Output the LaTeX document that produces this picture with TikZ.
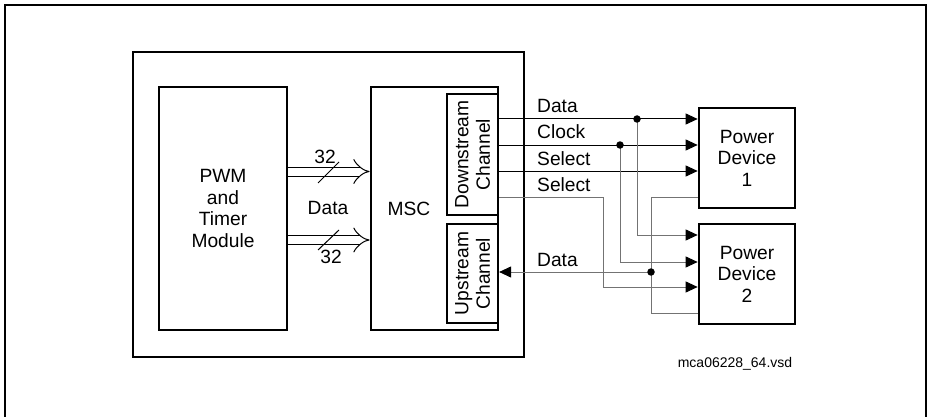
\documentclass[tikz,border=0pt]{standalone}
\usepackage{fontspec}
\setmainfont{Liberation Sans}
\usetikzlibrary{arrows.meta}

\begin{document}
\begin{tikzpicture}[x=1pt, y=-1pt,
    every node/.style={font=\fontsize{19.2}{21.5}\selectfont},
    blk/.style={draw, line width=2.7pt, inner sep=0pt, align=center},
    chan/.style={draw, line width=2.2pt, minimum width=51pt, inner sep=0pt},
    sig/.style={line width=1pt, -{Triangle[length=12pt,width=11pt]}},
    tap/.style={sig, black!55, -{Triangle[length=12pt,width=11pt,black]}},
    lbl/.style={anchor=base west, inner sep=0pt},
    dot/.style={circle, fill, inner sep=0pt, minimum size=7.5pt},
    bus/.style={double, double distance=8pt, line width=1pt, -{Implies}}]
    \useasboundingbox (0,0) rectangle (928,417);
    \draw [line width=1.2pt] (5,417) |- (926,5) -- (926,417);

    \node [blk, minimum width=391pt, minimum height=305pt] (soc) at (328.5,204.5) {};
    \node [blk, minimum width=128pt, minimum height=243pt] (pwm) at (223,208.5) {PWM\\and\\Timer\\Module};
    \node [blk, minimum width=127pt, minimum height=243pt] (msc) at (434.5,208.5) {};
    \node [inner sep=0pt] (msctxt) at (409,209) {MSC};
    \node [chan, minimum height=121pt] (down) at (472.5,154.5) {};
    \node [rotate=90, align=center, inner sep=0pt] (downtxt) at (down) {Downstream\\Channel};
    \node [chan, minimum height=99pt] (up) at (472.5,273.5) {};
    \node [rotate=90, align=center, inner sep=0pt] (uptxt) at (up) {Upstream\\Channel};
    \node [blk, minimum width=96pt, minimum height=100pt] (pd1) at (747,158) {Power\\Device\\1};
    \node [blk, minimum width=96pt, minimum height=100pt] (pd2) at (747,274) {Power\\Device\\2};

    % bus between PWM and MSC
    \coordinate (ybusa) at (0,171.5);
    \coordinate (ybusb) at (0,240);
    \draw [bus] (pwm.east |- ybusa) -- (msc.west |- ybusa);
    \draw [bus] (pwm.east |- ybusb) -- (msc.west |- ybusb);
    \draw [line width=1pt] (318,183) -- (339,162);
    \draw [line width=1pt] (318,250) -- (339,230);
    \node (wa) at (325,157) {32};
    \node (wb) at (331,257) {32};
    \node (ldbus) at (328,208) {Data};

    % junctions and levels
    \coordinate (jdata) at (637,119);
    \coordinate (jclk) at (620,145);
    \coordinate (jsel) at (603,197);
    \coordinate (jret) at (651,272);
    \coordinate (ysel) at (0,171);
    \coordinate (yd2) at (0,235);
    \coordinate (yc2) at (0,262);
    \coordinate (ys2) at (0,287);
    \coordinate (yr1) at (0,197);
    \coordinate (yr2) at (0,313);

    \draw [sig] (down.east |- jdata) -- (pd1.west |- jdata);
    \draw [sig] (down.east |- jclk) -- (pd1.west |- jclk);
    \draw [sig] (down.east |- ysel) -- (pd1.west |- ysel);
    \draw [tap] (jdata) |- (pd2.west |- yd2);
    \draw [tap] (jclk) |- (pd2.west |- yc2);
    \draw [tap] (down.east |- jsel) -- (jsel) |- (pd2.west |- ys2);
    \draw [tap, -] (pd1.west |- yr1) -| (jret) |- (pd2.west |- yr2);
    \draw [tap] (jret) -- (up.east |- jret);
    \node [dot] (ddata) at (jdata) {};
    \node [dot] (dclk) at (jclk) {};
    \node [dot] (dret) at (jret) {};

    \node [lbl] (ldata) at (537,113) {Data};
    \node [lbl] (lclk) at (537,139) {Clock};
    \node [lbl] (lsel) at (537,165) {Select};
    \node [lbl] (lsel2) at (537,191) {Select};
    \node [lbl] (lup) at (537,266) {Data};

    \node [font=\fontsize{14}{16}\selectfont] (fname) at (735,364) {mca06228\_64.vsd};
\end{tikzpicture}
\end{document}
